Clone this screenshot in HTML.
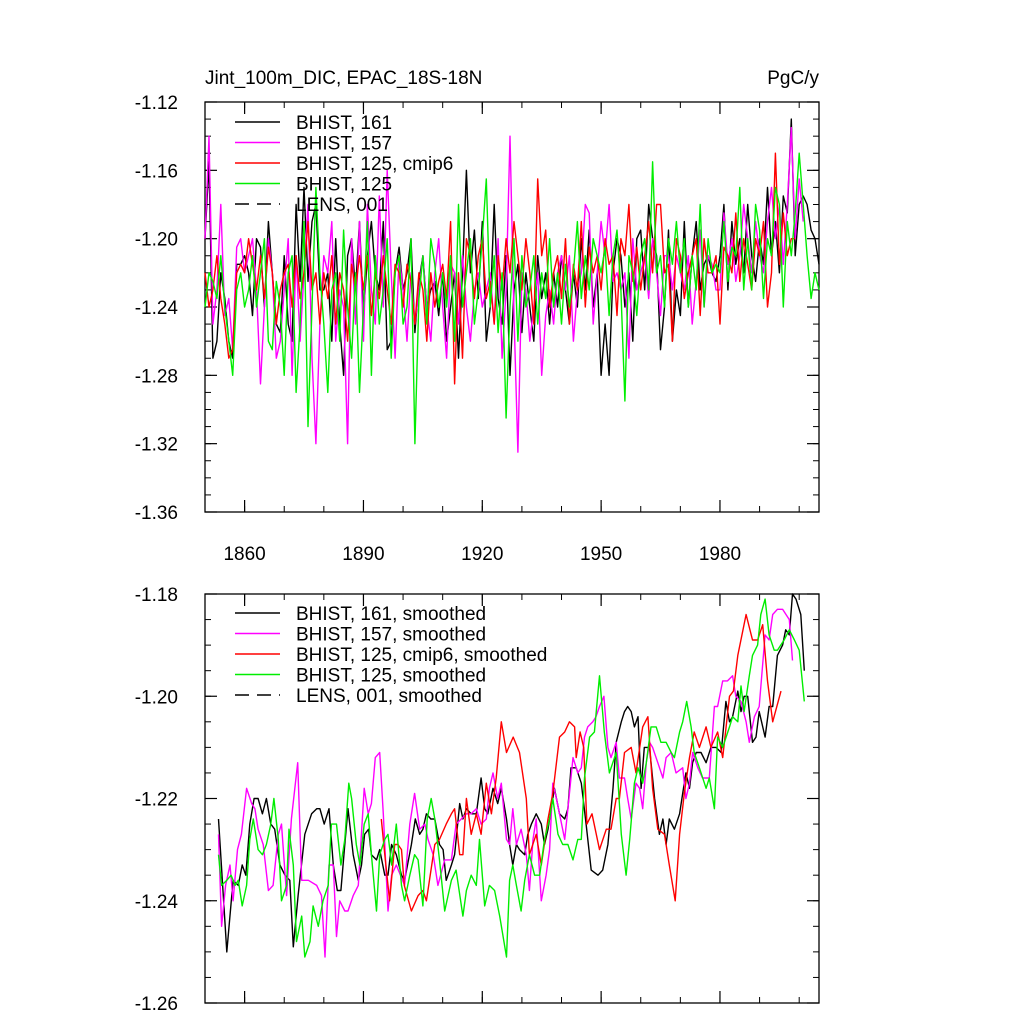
<!DOCTYPE html>
<html><head><meta charset="utf-8"><style>
html,body{margin:0;padding:0;background:#fff;}
svg{display:block;font-family:"Liberation Sans",Arial,sans-serif;}
</style></head><body>
<svg id="chart" width="1024" height="1024" viewBox="0 0 1024 1024">
<text x="205" y="84" font-size="19">Jint_100m_DIC, EPAC_18S-18N</text>
<text x="819" y="84" font-size="19" text-anchor="end">PgC/y</text>
<g id="top"></g>
<g id="bot"></g>
</svg>
<script>
const colors=["#000000","#ff00ff","#ff0000","#00ee00"];
const topNames=["BHIST, 161","BHIST, 157","BHIST, 125, cmip6","BHIST, 125","LENS, 001"];
const botNames=["BHIST, 161, smoothed","BHIST, 157, smoothed","BHIST, 125, cmip6, smoothed","BHIST, 125, smoothed","LENS, 001, smoothed"];
const xTicks=[1860,1890,1920,1950,1980];
const topYTicks=[-1.12,-1.16,-1.20,-1.24,-1.28,-1.32,-1.36];
const botYTicks=[-1.18,-1.20,-1.22,-1.24,-1.26];
const topStartYear=1850;
const blackTop=[-1.20,-1.155,-1.27,-1.26,-1.22,-1.235,-1.26,-1.27,-1.215,-1.215,
-1.21,-1.22,-1.245,-1.20,-1.205,-1.24,-1.19,-1.22,-1.25,-1.255,
-1.21,-1.25,-1.26,-1.18,-1.225,-1.17,-1.225,-1.19,-1.18,-1.23,
-1.23,-1.22,-1.26,-1.20,-1.25,-1.28,-1.21,-1.20,-1.23,-1.19,
-1.245,-1.21,-1.19,-1.22,-1.23,-1.19,-1.265,-1.26,-1.22,-1.205,
-1.23,-1.22,-1.20,-1.255,-1.225,-1.21,-1.24,-1.23,-1.225,-1.245,
-1.22,-1.26,-1.24,-1.22,-1.27,-1.22,-1.16,-1.22,-1.195,-1.235,
-1.19,-1.26,-1.24,-1.18,-1.235,-1.25,-1.21,-1.28,-1.23,-1.215,
-1.255,-1.22,-1.24,-1.26,-1.21,-1.235,-1.22,-1.25,-1.22,-1.24,
-1.21,-1.23,-1.25,-1.22,-1.24,-1.20,-1.23,-1.195,-1.24,-1.22,
-1.28,-1.25,-1.28,-1.22,-1.20,-1.21,-1.24,-1.22,-1.26,-1.20,
-1.195,-1.23,-1.18,-1.20,-1.21,-1.265,-1.24,-1.195,-1.26,-1.23,
-1.245,-1.19,-1.24,-1.21,-1.19,-1.23,-1.215,-1.21,-1.22,-1.225,
-1.21,-1.18,-1.23,-1.19,-1.215,-1.20,-1.22,-1.18,-1.21,-1.225,
-1.20,-1.215,-1.17,-1.21,-1.19,-1.22,-1.175,-1.185,-1.13,-1.21,
-1.18,-1.175,-1.18,-1.195,-1.20,-1.215];
const magentaTop=[-1.20,-1.14,-1.25,-1.23,-1.18,-1.245,-1.235,-1.265,-1.205,-1.20,
-1.22,-1.21,-1.20,-1.23,-1.285,-1.24,-1.20,-1.22,-1.27,-1.26,
-1.23,-1.20,-1.28,-1.21,-1.26,-1.22,-1.18,-1.27,-1.32,-1.25,
-1.21,-1.22,-1.19,-1.26,-1.23,-1.24,-1.32,-1.20,-1.25,-1.19,
-1.26,-1.18,-1.23,-1.25,-1.175,-1.24,-1.16,-1.22,-1.27,-1.21,
-1.23,-1.26,-1.22,-1.25,-1.23,-1.21,-1.24,-1.26,-1.22,-1.20,
-1.24,-1.27,-1.215,-1.22,-1.25,-1.21,-1.24,-1.26,-1.23,-1.22,
-1.24,-1.23,-1.22,-1.25,-1.20,-1.27,-1.23,-1.14,-1.245,-1.325,
-1.22,-1.23,-1.26,-1.24,-1.22,-1.28,-1.245,-1.23,-1.25,-1.22,
-1.21,-1.23,-1.21,-1.26,-1.23,-1.22,-1.18,-1.185,-1.25,-1.22,
-1.19,-1.21,-1.18,-1.225,-1.22,-1.23,-1.22,-1.27,-1.20,-1.23,
-1.22,-1.21,-1.235,-1.20,-1.22,-1.245,-1.21,-1.21,-1.23,-1.21,
-1.22,-1.23,-1.21,-1.25,-1.225,-1.195,-1.24,-1.21,-1.215,-1.23,
-1.23,-1.185,-1.215,-1.20,-1.225,-1.21,-1.18,-1.20,-1.22,-1.19,
-1.21,-1.22,-1.19,-1.17,-1.20,-1.18,-1.215,-1.18,-1.135,-1.20,
-1.165,-1.19];
const redTop=[-1.22,-1.24,-1.23,-1.21,-1.235,-1.25,-1.27,-1.265,-1.22,-1.215,
-1.22,-1.20,-1.215,-1.23,-1.21,-1.235,-1.205,-1.22,-1.25,-1.23,
-1.22,-1.215,-1.24,-1.21,-1.235,-1.22,-1.19,-1.23,-1.22,-1.25,
-1.22,-1.235,-1.21,-1.25,-1.22,-1.23,-1.26,-1.215,-1.23,-1.21,
-1.23,-1.21,-1.245,-1.22,-1.235,-1.21,-1.23,-1.25,-1.215,-1.22,
-1.24,-1.215,-1.225,-1.25,-1.22,-1.23,-1.26,-1.22,-1.24,-1.225,
-1.215,-1.235,-1.19,-1.285,-1.22,-1.27,-1.20,-1.21,-1.235,-1.21,
-1.20,-1.235,-1.225,-1.25,-1.21,-1.23,-1.20,-1.22,-1.19,-1.21,
-1.23,-1.20,-1.22,-1.25,-1.165,-1.21,-1.195,-1.24,-1.22,-1.21,
-1.235,-1.20,-1.25,-1.215,-1.23,-1.19,-1.24,-1.205,-1.22,-1.21,
-1.23,-1.20,-1.215,-1.21,-1.245,-1.20,-1.21,-1.18,-1.225,-1.205,
-1.23,-1.21,-1.19,-1.22,-1.18,-1.18,-1.22,-1.215,-1.26,-1.20,
-1.21,-1.235,-1.22,-1.21,-1.20,-1.245,-1.20,-1.22,-1.22,-1.21,
-1.25,-1.205,-1.21,-1.22,-1.185,-1.225,-1.20,-1.215,-1.23,-1.20,
-1.21,-1.19,-1.24,-1.22,-1.15,-1.215,-1.185,-1.21,-1.20,-1.20];
const greenTop=[-1.24,-1.22,-1.225,-1.235,-1.21,-1.24,-1.26,-1.28,-1.23,-1.22,
-1.24,-1.23,-1.21,-1.24,-1.22,-1.20,-1.26,-1.265,-1.225,-1.24,
-1.28,-1.22,-1.21,-1.29,-1.25,-1.19,-1.31,-1.24,-1.17,-1.22,
-1.25,-1.29,-1.23,-1.22,-1.26,-1.195,-1.24,-1.27,-1.22,-1.29,
-1.24,-1.19,-1.28,-1.21,-1.25,-1.23,-1.20,-1.27,-1.22,-1.21,
-1.25,-1.24,-1.20,-1.32,-1.235,-1.21,-1.25,-1.20,-1.215,-1.24,
-1.22,-1.24,-1.21,-1.26,-1.18,-1.24,-1.22,-1.20,-1.25,-1.23,
-1.20,-1.165,-1.24,-1.21,-1.255,-1.22,-1.305,-1.24,-1.20,-1.26,
-1.21,-1.24,-1.23,-1.21,-1.25,-1.22,-1.235,-1.20,-1.24,-1.22,
-1.25,-1.215,-1.24,-1.22,-1.19,-1.235,-1.21,-1.23,-1.20,-1.21,
-1.22,-1.205,-1.245,-1.21,-1.195,-1.23,-1.295,-1.21,-1.22,-1.245,
-1.21,-1.20,-1.23,-1.155,-1.22,-1.21,-1.24,-1.20,-1.215,-1.19,
-1.22,-1.20,-1.24,-1.21,-1.23,-1.18,-1.24,-1.20,-1.22,-1.215,
-1.22,-1.19,-1.225,-1.205,-1.21,-1.17,-1.23,-1.20,-1.23,-1.18,
-1.195,-1.235,-1.20,-1.21,-1.17,-1.18,-1.24,-1.19,-1.21,-1.185,
-1.15,-1.18,-1.21,-1.235,-1.22,-1.23];

// smoothed series: years + values
const blackBotYears=[1853.4,1855.5,1857.1,1858.4,1859.4,1860.3,1861.3,1862.4,1863.4,1864.5,1865.5,1866.6,1867.6,1868.9,1870.2,1871.4,1872.3,1873.5,1875.2,1876.9,1878.2,1879.0,1880.1,1881.3,1882.4,1883.4,1884.3,1885.3,1886.1,1887.4,1888.7,1889.5,1890.3,1891.3,1892.0,1893.3,1894.1,1895.4,1896.2,1897.1,1898.3,1899.6,1900.4,1902.1,1903.1,1904.2,1905.0,1905.9,1907.0,1908.0,1909.2,1910.1,1910.9,1912.2,1913.0,1914.3,1915.1,1916.0,1917.2,1918.5,1919.7,1920.6,1921.4,1922.7,1923.9,1924.8,1926.1,
1926.9,1927.7,1928.6,1929.4,1930.7,1931.5,1932.4,1933.6,1934.9,1935.7,1936.6,1937.4,1938.2,1939.5,1940.8,1941.6,1942.4,1943.7,1945.0,1946.2,1947.5,1949.2,1950.4,1951.7,1953.0,1953.8,1955.1,1955.9,1956.7,1957.6,1958.4,1959.3,1960.1,1960.9,1962.2,1963.5,1964.7,1965.6,1966.4,1967.2,1968.5,1969.8,1970.6,1971.4,1972.3,1973.1,1974.0,1975.2,1976.5,1977.7,1979.0,1980.3,1981.5,1982.4,1983.2,1984.5,1985.3,1986.1,1987.0,1988.2,1989.1,1989.9,1991.4,1992.4,1993.3,1994.5,1995.8,1996.6,1997.5,1998.3,1999.2,2000.4,2001.3];
const blackBot=[-1.224,-1.250,-1.236,-1.237,-1.233,-1.235,-1.225,-1.220,-1.220,-1.223,-1.220,-1.225,-1.226,-1.233,-1.235,-1.236,-1.249,-1.239,-1.227,-1.223,-1.222,-1.222,-1.225,-1.222,-1.233,-1.238,-1.238,-1.229,-1.222,-1.231,-1.236,-1.233,-1.227,-1.226,-1.231,-1.232,-1.230,-1.235,-1.235,-1.229,-1.231,-1.235,-1.236,-1.229,-1.224,-1.227,-1.226,-1.223,-1.224,-1.224,-1.229,-1.230,-1.236,-1.233,-1.231,-1.221,-1.224,-1.222,-1.223,-1.223,-1.216,-1.222,-1.223,-1.218,-1.221,-1.218,-1.224,
-1.229,-1.233,-1.229,-1.230,-1.231,-1.227,-1.225,-1.223,-1.225,-1.229,-1.226,-1.222,-1.218,-1.223,-1.224,-1.222,-1.214,-1.214,-1.217,-1.225,-1.234,-1.235,-1.234,-1.229,-1.218,-1.209,-1.205,-1.203,-1.202,-1.203,-1.206,-1.204,-1.218,-1.210,-1.210,-1.220,-1.227,-1.224,-1.229,-1.224,-1.226,-1.223,-1.219,-1.215,-1.218,-1.213,-1.211,-1.211,-1.213,-1.210,-1.210,-1.211,-1.201,-1.205,-1.204,-1.199,-1.203,-1.200,-1.200,-1.209,-1.208,-1.203,-1.208,-1.202,-1.202,-1.192,-1.190,-1.187,-1.188,-1.180,-1.181,-1.184,-1.195];
const magentaBotYears=[1853.4,1854.2,1855.2,1856.3,1857.1,1858.2,1859.2,1860.5,1861.8,1862.6,1863.4,1864.7,1866.0,1867.2,1868.5,1869.3,1870.6,1871.8,1873.4,1874.4,1876.1,1878.2,1879.4,1880.3,1881.3,1882.4,1883.2,1884.0,1885.3,1886.1,1887.4,1888.7,1890.2,1891.2,1892.0,1893.0,1894.1,1895.0,1896.2,1897.1,1898.3,1900.4,1901.7,1902.9,1904.2,1905.5,1906.3,1907.6,1908.8,1910.5,1912.2,1913.4,1914.7,1916.0,1917.2,1918.5,1919.7,1921.0,1921.8,1922.7,1923.9,1924.8,1926.1,
1926.9,1927.7,1928.6,1929.8,1931.1,1931.9,1932.8,1933.6,1934.9,1936.1,1937.0,1937.8,1938.7,1939.5,1940.8,1941.6,1942.9,1944.1,1945.0,1945.8,1946.6,1947.9,1948.7,1949.6,1950.7,1951.7,1952.5,1953.8,1954.6,1955.9,1956.7,1957.6,1958.8,1959.7,1960.5,1961.4,1962.2,1963.0,1964.3,1965.6,1966.4,1967.7,1968.9,1970.6,1971.4,1972.3,1973.1,1974.4,1975.6,1977.3,1978.6,1979.4,1980.7,1981.9,1983.2,1984.0,1985.3,1986.6,1987.4,1988.7,1989.9,1991.4,1992.4,1993.3,1994.5,1995.8,1997.5,1998.3];
const magentaBot=[-1.227,-1.245,-1.237,-1.233,-1.240,-1.230,-1.227,-1.218,-1.221,-1.222,-1.226,-1.229,-1.238,-1.237,-1.227,-1.225,-1.239,-1.224,-1.213,-1.236,-1.236,-1.237,-1.239,-1.251,-1.233,-1.233,-1.247,-1.240,-1.242,-1.242,-1.239,-1.237,-1.218,-1.223,-1.221,-1.212,-1.211,-1.223,-1.242,-1.235,-1.233,-1.237,-1.225,-1.219,-1.226,-1.225,-1.228,-1.231,-1.237,-1.232,-1.232,-1.225,-1.224,-1.223,-1.223,-1.222,-1.225,-1.224,-1.218,-1.215,-1.220,-1.217,-1.228,
-1.229,-1.222,-1.229,-1.226,-1.231,-1.238,-1.228,-1.224,-1.240,-1.235,-1.230,-1.217,-1.220,-1.223,-1.228,-1.222,-1.212,-1.215,-1.214,-1.208,-1.206,-1.205,-1.204,-1.202,-1.200,-1.210,-1.212,-1.209,-1.216,-1.216,-1.220,-1.224,-1.217,-1.218,-1.222,-1.213,-1.209,-1.210,-1.213,-1.216,-1.212,-1.211,-1.215,-1.214,-1.220,-1.217,-1.211,-1.214,-1.216,-1.216,-1.202,-1.202,-1.197,-1.197,-1.196,-1.200,-1.201,-1.205,-1.209,-1.204,-1.202,-1.188,-1.189,-1.184,-1.183,-1.183,-1.185,-1.193];
const redBotYears=[1894.5,1895.4,1896.6,1897.9,1898.7,1899.6,1900.3,1902.1,1903.8,1905.0,1905.9,1908.0,1909.2,1910.9,1912.2,1913.0,1914.3,1915.1,1916.0,1917.2,1918.5,1919.7,1921.0,1922.3,1923.5,1924.8,1926.1,
1927.8,1929.4,1931.1,1931.9,1933.6,1934.9,1936.6,1937.8,1939.5,1940.8,1942.0,1943.3,1943.7,1944.7,1945.6,1946.4,1947.7,1949.6,1951.3,1952.5,1953.8,1954.6,1955.9,1957.6,1958.8,1960.5,1961.8,1963.0,1964.3,1966.0,1967.2,1968.7,1969.8,1971.0,1972.3,1973.5,1974.8,1976.5,1977.7,1979.4,1980.7,1982.4,1983.4,1984.5,1986.6,1988.2,1989.5,1990.8,1992.0,1993.3,1995.4];
const redBot=[-1.224,-1.231,-1.240,-1.229,-1.229,-1.230,-1.237,-1.242,-1.239,-1.238,-1.240,-1.229,-1.228,-1.225,-1.223,-1.222,-1.231,-1.231,-1.220,-1.227,-1.223,-1.227,-1.217,-1.223,-1.216,-1.205,-1.211,
-1.208,-1.211,-1.220,-1.231,-1.227,-1.233,-1.224,-1.219,-1.208,-1.207,-1.205,-1.206,-1.212,-1.207,-1.210,-1.225,-1.223,-1.230,-1.226,-1.226,-1.220,-1.220,-1.211,-1.210,-1.215,-1.206,-1.204,-1.218,-1.226,-1.227,-1.233,-1.240,-1.227,-1.219,-1.212,-1.207,-1.210,-1.206,-1.210,-1.207,-1.212,-1.200,-1.199,-1.192,-1.184,-1.189,-1.189,-1.186,-1.197,-1.205,-1.199];
const greenBotYears=[1853.4,1854.2,1855.5,1856.6,1857.6,1858.4,1859.4,1860.5,1861.3,1862.2,1863.4,1864.5,1865.5,1866.6,1867.4,1868.5,1869.3,1870.6,1871.2,1872.3,1873.1,1874.4,1875.2,1876.5,1877.3,1878.6,1879.8,1881.1,1881.9,1883.2,1884.3,1885.3,1886.3,1887.0,1888.2,1889.1,1890.2,1891.2,1892.0,1893.3,1894.1,1895.4,1896.2,1897.1,1898.3,1899.6,1900.4,1901.7,1902.9,1903.8,1905.0,1906.1,1907.1,1908.0,1909.2,1910.5,1912.2,1913.4,1915.1,1916.0,1917.2,1918.5,1919.3,1920.6,1921.8,1923.1,1924.4,1926.1,
1926.9,1927.7,1928.6,1929.8,1930.7,1931.9,1933.2,1934.5,1935.7,1937.0,1937.8,1939.1,1940.3,1941.6,1942.9,1944.1,1945.0,1945.8,1947.1,1948.3,1949.6,1950.8,1952.1,1953.8,1955.1,1956.3,1957.2,1958.4,1959.3,1960.5,1961.4,1962.6,1963.9,1965.1,1966.4,1967.7,1968.5,1969.8,1970.6,1971.6,1972.7,1973.5,1974.8,1976.5,1977.3,1978.6,1979.4,1980.7,1982.4,1983.2,1984.5,1985.3,1986.1,1987.4,1988.2,1989.5,1990.3,1991.4,1992.4,1993.7,1994.5,1996.2,1997.5,1998.8,2000.0,2001.3];
const greenBot=[-1.231,-1.237,-1.236,-1.235,-1.237,-1.236,-1.241,-1.237,-1.228,-1.224,-1.230,-1.231,-1.229,-1.225,-1.220,-1.228,-1.240,-1.237,-1.226,-1.233,-1.248,-1.243,-1.251,-1.248,-1.241,-1.245,-1.240,-1.237,-1.225,-1.225,-1.233,-1.228,-1.217,-1.220,-1.229,-1.233,-1.225,-1.223,-1.231,-1.242,-1.231,-1.228,-1.227,-1.233,-1.225,-1.237,-1.240,-1.235,-1.231,-1.232,-1.241,-1.224,-1.220,-1.224,-1.232,-1.242,-1.236,-1.234,-1.243,-1.238,-1.235,-1.237,-1.228,-1.241,-1.237,-1.238,-1.243,-1.251,
-1.236,-1.233,-1.237,-1.242,-1.236,-1.231,-1.235,-1.235,-1.228,-1.224,-1.220,-1.227,-1.229,-1.229,-1.232,-1.228,-1.228,-1.216,-1.208,-1.207,-1.196,-1.207,-1.215,-1.211,-1.227,-1.235,-1.228,-1.217,-1.214,-1.217,-1.213,-1.206,-1.206,-1.209,-1.209,-1.211,-1.212,-1.207,-1.205,-1.201,-1.206,-1.211,-1.214,-1.218,-1.216,-1.222,-1.208,-1.210,-1.206,-1.204,-1.205,-1.198,-1.203,-1.196,-1.192,-1.190,-1.184,-1.181,-1.188,-1.191,-1.191,-1.189,-1.187,-1.189,-1.191,-1.201];

const NS="http://www.w3.org/2000/svg";
function mk(parent,tag,attrs){const e=document.createElementNS(NS,tag);for(const k in attrs)e.setAttribute(k,attrs[k]);parent.appendChild(e);return e;}
const X0=205,X1=819,yr0=1850,yr1=2005;
function xs(y){return X0+(y-yr0)/(yr1-yr0)*(X1-X0);}

function panel(g,yTop,yBot,vTop,vBot,yTicks,minorStep,series,yearsList,names,legY,showXLabels,prefix){
  const ys=v=>yTop+(vTop-v)/(vTop-vBot)*(yBot-yTop);
  const frame=mk(g,"rect",{x:X0,y:yTop,width:X1-X0,height:yBot-yTop,fill:"none",stroke:"#000","stroke-width":1.3});
  
  
  for(let v=vBot;v<=vTop+1e-9;v+=minorStep){
    const y=ys(v);
    mk(g,"line",{x1:X0,x2:X0+6,y1:y,y2:y,stroke:"#000","stroke-width":1});
    mk(g,"line",{x1:X1,x2:X1-6,y1:y,y2:y,stroke:"#000","stroke-width":1});
  }
  yTicks.forEach(v=>{
    const y=ys(v);
    mk(g,"line",{x1:X0,x2:X0+12,y1:y,y2:y,stroke:"#000","stroke-width":1.2});
    mk(g,"line",{x1:X1,x2:X1-12,y1:y,y2:y,stroke:"#000","stroke-width":1.2});
    const t=mk(g,"text",{x:178,y:y+7,"font-size":19,"text-anchor":"end"});
    t.textContent=v.toFixed(2);
    
    
  });
  for(let yv=1850;yv<=2000;yv+=10){
    const x=xs(yv);
    mk(g,"line",{x1:x,x2:x,y1:yBot,y2:yBot-6,stroke:"#000","stroke-width":1});
    mk(g,"line",{x1:x,x2:x,y1:yTop,y2:yTop+6,stroke:"#000","stroke-width":1});
  }
  xTicks.forEach(yv=>{
    const x=xs(yv);
    mk(g,"line",{x1:x,x2:x,y1:yBot,y2:yBot-12,stroke:"#000","stroke-width":1.2});
    mk(g,"line",{x1:x,x2:x,y1:yTop,y2:yTop+12,stroke:"#000","stroke-width":1.2});
    if(showXLabels){
      const t=mk(g,"text",{x:x,y:yBot+48,"font-size":19,"text-anchor":"middle"});
      t.textContent=yv;
      
      
    }
  });
  series.forEach((d,i)=>{
    const yrs=yearsList[i];
    const pts=d.map((v,j)=>xs(yrs(j)).toFixed(1)+","+ys(v).toFixed(1)).join(" ");
    const p=mk(g,"polyline",{points:pts,fill:"none",stroke:colors[i],"stroke-width":1.4,"stroke-linejoin":"round"});
    
    
  });
  names.forEach((n,i)=>{
    const y=legY+i*20.5;
    const lg=mk(g,"g",{});
    
    
    mk(lg,"line",{x1:235,x2:280,y1:y,y2:y,stroke:i<4?colors[i]:"#000","stroke-width":1.4,"stroke-dasharray":i<4?"none":"14,8"});
    const t=mk(lg,"text",{x:296,y:y+7,"font-size":19});
    t.textContent=n;
  });
}
const annual=j=>topStartYear+j;
panel(document.getElementById("top"),102,512,-1.12,-1.36,topYTicks,0.01,[blackTop,magentaTop,redTop,greenTop],[annual,annual,annual,annual],topNames,122,true,"top");
panel(document.getElementById("bot"),594,1003,-1.18,-1.26,botYTicks,0.005,[blackBot,magentaBot,redBot,greenBot],[j=>blackBotYears[j],j=>magentaBotYears[j],j=>redBotYears[j],j=>greenBotYears[j]],botNames,613,false,"bottom");
</script>
</body></html>
